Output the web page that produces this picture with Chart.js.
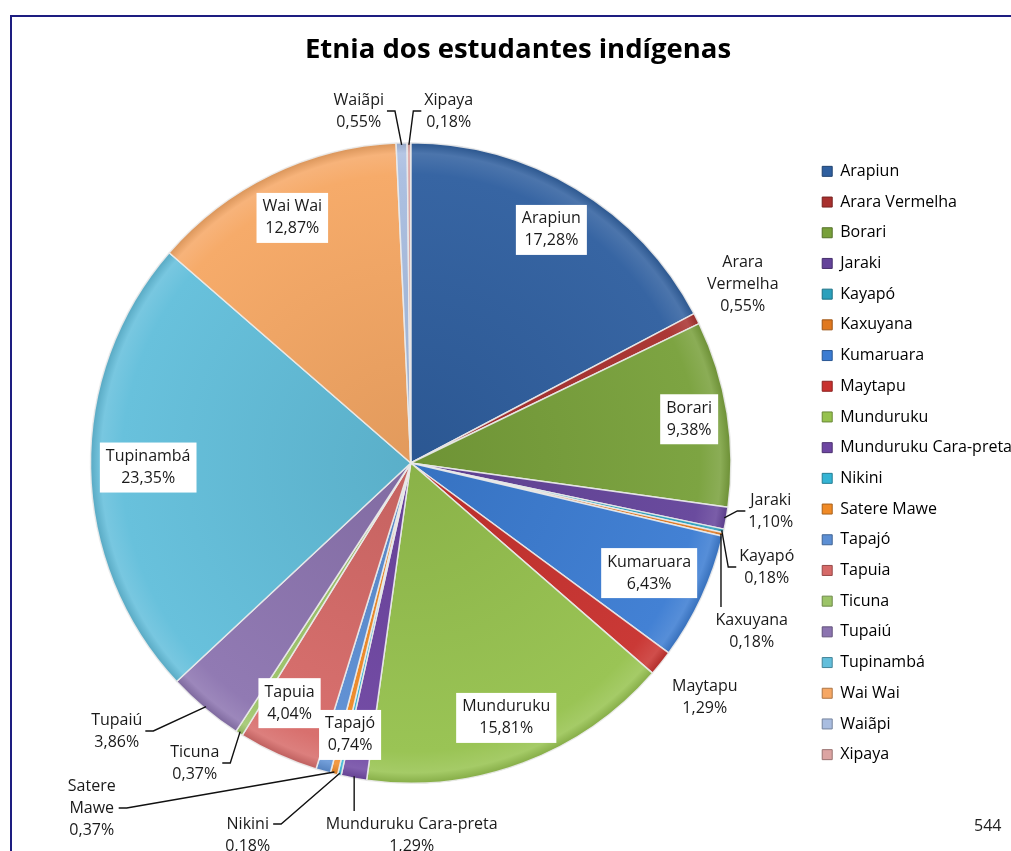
<!DOCTYPE html>
<html>
<head>
<meta charset="utf-8">
<script src="https://cdn.jsdelivr.net/npm/chart.js@4.4.0/dist/chart.umd.min.js"></script>
<style>
  body { margin: 0; background: #fff; overflow: hidden; }
  #frame { position: absolute; left: 10px; top: 15px; width: 1100px; height: 900px;
           border-top: 2px solid #1d1d80; border-left: 2px solid #1d1d80; }
  #wrap { position: absolute; left: 0; top: 0; width: 1030px; height: 851px; }
  #page { position: absolute; left: 974px; top: 814px; font: 16px 'Open Sans'; color: #222; }
</style>
</head>
<body>
<div id="frame"></div>
<div id="wrap"><canvas id="etniaChart"></canvas></div>
<div id="page">544</div>
<script>
// dados (%)
const etnias = ['Arapiun', 'Arara Vermelha', 'Borari', 'Jaraki', 'Kayapó', 'Kaxuyana', 'Kumaruara',
  'Maytapu', 'Munduruku', 'Munduruku Cara-preta', 'Nikini', 'Satere Mawe', 'Tapajó', 'Tapuia',
  'Ticuna', 'Tupaiú', 'Tupinambá', 'Wai Wai', 'Waiãpi', 'Xipaya'];
const percentuais = [17.28, 0.55, 9.38, 1.10, 0.18, 0.18, 6.43, 1.29, 15.81, 1.29, 0.18, 0.37,
  0.74, 4.04, 0.37, 3.86, 23.35, 12.87, 0.55, 0.18];
const cores = ['#2f5f9f', '#a8302e', '#78a03a', '#64439a', '#2aa0bc', '#e0781e', '#3b7cd2',
  '#c8312e', '#96c24e', '#6e46a2', '#35b4d4', '#f08a26', '#5c8fd4', '#d66a68', '#9cc468',
  '#8c74b0', '#62bedb', '#f6a764', '#a9bde0', '#dca4a2'];
const quebraNome = ['Arara Vermelha', 'Satere Mawe'];

// onde fica cada rotulo (dentro: fracao do raio; fora: deslocamento do centro)
const posRotulo = [
  {tipo: 'in', f: 0.85}, {tipo: 'out', dx: 332, dy: -179}, {tipo: 'in', f: 0.88},
  {tipo: 'out', dx: 360, dy: 48, linha: 'side'}, {tipo: 'out', dx: 356, dy: 104, linha: 'side'},
  {tipo: 'out', dx: 341, dy: 168, linha: 'top'}, {tipo: 'in', f: 0.82},
  {tipo: 'out', dx: 294, dy: 234}, {tipo: 'in', f: 0.85},
  {tipo: 'out', dx: 1, dy: 372, linha: 'top'}, {tipo: 'out', dx: -163, dy: 372, linha: 'side1'},
  {tipo: 'out', dx: -319, dy: 345, linha: 'side'}, {tipo: 'in', f: 0.87, giro: -3.3},
  {tipo: 'in', f: 0.84, giro: 2.3}, {tipo: 'out', dx: -216, dy: 300, linha: 'side'},
  {tipo: 'out', dx: -294, dy: 268, linha: 'side'}, {tipo: 'in', f: 0.82}, {tipo: 'in', f: 0.85},
  {tipo: 'out', dx: -52, dy: -352, linha: 'side'}, {tipo: 'out', dx: 38, dy: -352, linha: 'side'}
];

function tom(hex, k) {
  let r = parseInt(hex.slice(1, 3), 16), g = parseInt(hex.slice(3, 5), 16), b = parseInt(hex.slice(5, 7), 16);
  const f = v => Math.round(k >= 0 ? v + (255 - v) * k : v * (1 + k));
  return 'rgb(' + f(r) + ',' + f(g) + ',' + f(b) + ')';
}

function fatia(context) {
  const chart = context.chart;
  const area = chart.chartArea;
  const base = cores[context.dataIndex];
  if (!area) return base;
  const cx = (area.left + area.right) / 2, cy = (area.top + area.bottom) / 2;
  const r = Math.min(area.width, area.height) / 2;
  const g = chart.ctx.createRadialGradient(cx, cy, 0, cx, cy, r);
  g.addColorStop(0, tom(base, -0.08));
  g.addColorStop(0.9, tom(base, 0.04));
  g.addColorStop(0.965, tom(base, 0.14));
  g.addColorStop(1, tom(base, -0.12));
  return g;
}

function textoRotulo(i) {
  const pct = percentuais[i].toFixed(2).replace('.', ',') + '%';
  const nome = quebraNome.includes(etnias[i]) ? etnias[i].split(' ') : [etnias[i]];
  return nome.concat([pct]);
}

const rotulos = {
  id: 'rotulos',
  afterDatasetsDraw(chart) {
    const ctx = chart.ctx;
    const arcs = chart.getDatasetMeta(0).data;
    ctx.save();
    ctx.font = '16px "Open Sans"';
    ctx.textAlign = 'center';
    ctx.textBaseline = 'middle';
    arcs.forEach((arc, i) => {
      const p = posRotulo[i];
      const linhas = textoRotulo(i);
      const mid = (arc.startAngle + arc.endAngle) / 2;
      const r = arc.outerRadius;
      let lx, ly;
      if (p.tipo === 'in') {
        const a = mid + (p.giro || 0) * Math.PI / 180;
        lx = arc.x + Math.cos(a) * r * p.f;
        ly = arc.y + Math.sin(a) * r * p.f;
      } else {
        lx = arc.x + p.dx;
        ly = arc.y + p.dy;
      }
      const w = Math.max(...linhas.map(t => ctx.measureText(t).width));
      const h = linhas.length * 22;
      if (p.tipo === 'in') {
        ctx.fillStyle = '#fff';
        ctx.fillRect(lx - w / 2 - 6, ly - h / 2 - 3, w + 12, h + 6);
      }
      const ex = arc.x + Math.cos(mid) * (r - 2);
      const ey = arc.y + Math.sin(mid) * (r - 2);
      ctx.strokeStyle = '#111';
      ctx.lineWidth = 1.4;
      if (p.linha === 'side' || p.linha === 'side1') {
        const ay = p.linha === 'side1' ? ly - h / 2 + 11 : ly;
        const ax = lx > ex ? lx - w / 2 - 3 : lx + w / 2 + 3;
        const sx = lx > ex ? ax - 8 : ax + 8;
        ctx.beginPath();
        ctx.moveTo(ax, ay);
        ctx.lineTo(sx, ay);
        ctx.lineTo(ex, ey);
        ctx.stroke();
      } else if (p.linha === 'top') {
        ctx.beginPath();
        ctx.moveTo(ex, ey);
        ctx.lineTo(ex, ly - h / 2 - 2);
        ctx.stroke();
      }
      ctx.fillStyle = '#1a1a1a';
      linhas.forEach((t, k) => ctx.fillText(t, lx, ly - h / 2 + 11 + k * 22));
    });
    ctx.restore();
  }
};

const ctx = document.getElementById('etniaChart').getContext('2d');
const etniaChart = new Chart(ctx, {
  type: 'pie',
  data: {
    labels: etnias,
    datasets: [{
      data: percentuais,
      backgroundColor: fatia,
      borderColor: 'rgba(235,235,235,0.9)',
      borderWidth: 1.5
    }]
  },
  options: {
    responsive: true,
    maintainAspectRatio: false,
    animation: false,
    layout: { padding: { left: 14, right: 8, top: 0, bottom: 67 } },
    plugins: {
      tooltip: { enabled: false },
      title: {
        display: true,
        text: 'Etnia dos estudantes indígenas',
        color: '#000',
        font: { family: 'Open Sans', size: 27.5, weight: 'bold' },
        padding: { top: 34, bottom: 75 }
      },
      legend: {
        position: 'right',
        align: 'center',
        fullSize: false,
        labels: {
          boxWidth: 10,
          boxHeight: 10,
          padding: 14.7,
          color: '#222',
          font: { family: 'Open Sans', size: 16 },
          generateLabels: chart => chart.data.labels.map((l, i) => ({
            text: l, fillStyle: cores[i], strokeStyle: tom(cores[i], -0.3),
            lineWidth: 1, hidden: false, index: i
          }))
        }
      }
    }
  },
  plugins: [rotulos]
});
</script>
</body>
</html>
